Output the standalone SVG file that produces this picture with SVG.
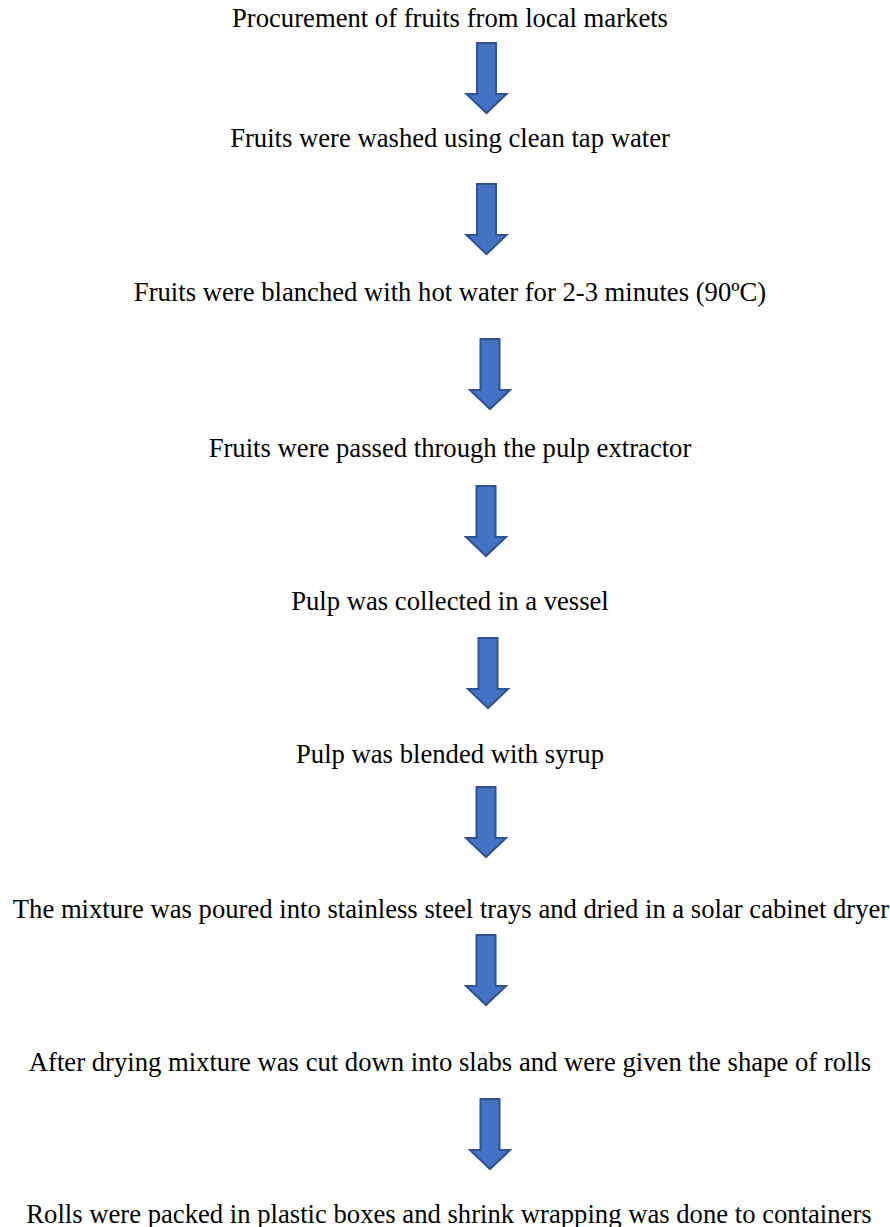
<svg xmlns="http://www.w3.org/2000/svg" xmlns:xlink="http://www.w3.org/1999/xlink" width="890" height="1227" viewBox="0 0 890 1227">
  <style>
    .lbl { font-family: "Liberation Serif", "Times New Roman", serif; font-size: 26.67px; fill: #000000; text-anchor: middle; }
    .arr { fill: #4472C4; stroke: #2F528F; stroke-width: 2; stroke-linejoin: miter; }
  </style>
  <defs>
    <path id="arrow" class="arr" d="M -9.5 0 H 9.5 V 51 H 20 L 0 70 L -20 51 H -9.5 Z"/>
  </defs>
  <rect width="890" height="1227" fill="#ffffff"/>
  <g id="connectors">
    <use xlink:href="#arrow" href="#arrow" transform="translate(486.5,43)"/>
    <use xlink:href="#arrow" href="#arrow" transform="translate(486.5,184)"/>
    <use xlink:href="#arrow" href="#arrow" transform="translate(490,339)"/>
    <use xlink:href="#arrow" href="#arrow" transform="translate(486,486)"/>
    <use xlink:href="#arrow" href="#arrow" transform="translate(488,638)"/>
    <use xlink:href="#arrow" href="#arrow" transform="translate(486,787)"/>
    <use xlink:href="#arrow" href="#arrow" transform="translate(486,935)"/>
    <use xlink:href="#arrow" href="#arrow" transform="translate(490,1099)"/>
  </g>
  <g id="step1"><text class="lbl" x="450" y="27">Procurement of fruits from local markets</text></g>
  <g id="step2"><text class="lbl" x="450" y="147">Fruits were washed using clean tap water</text></g>
  <g id="step3"><text class="lbl" x="450" y="301">Fruits were blanched with hot water for 2-3 minutes (90ºC)</text></g>
  <g id="step4"><text class="lbl" x="450" y="457">Fruits were passed through the pulp extractor</text></g>
  <g id="step5"><text class="lbl" x="450" y="610">Pulp was collected in a vessel</text></g>
  <g id="step6"><text class="lbl" x="450" y="763">Pulp was blended with syrup</text></g>
  <g id="step7"><text class="lbl" x="451" y="918">The mixture was poured into stainless steel trays and dried in a solar cabinet dryer</text></g>
  <g id="step8"><text class="lbl" x="450" y="1071">After drying mixture was cut down into slabs and were given the shape of rolls</text></g>
  <g id="step9"><text class="lbl" x="449" y="1223">Rolls were packed in plastic boxes and shrink wrapping was done to containers</text></g>
</svg>
